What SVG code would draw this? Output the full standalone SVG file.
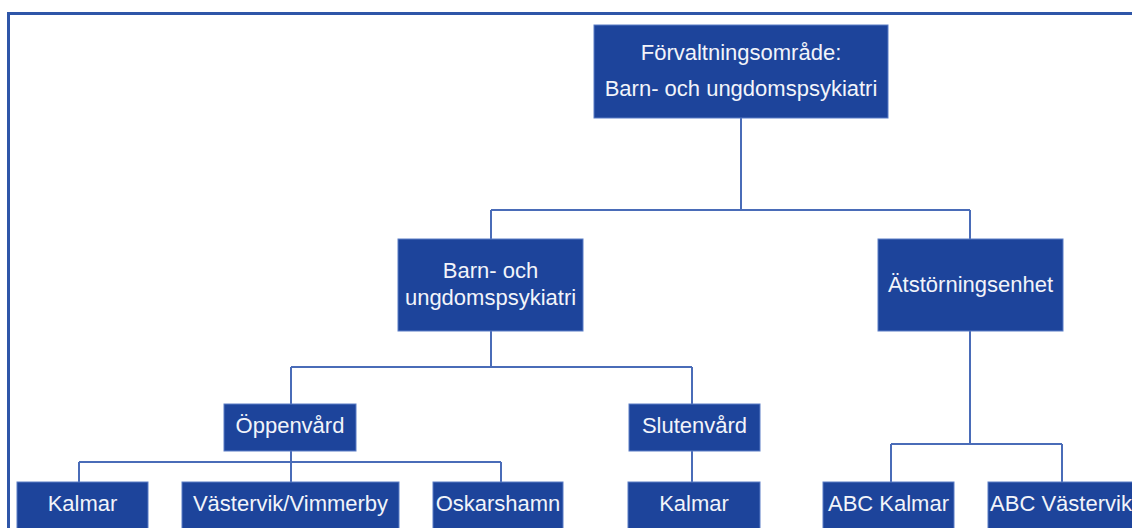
<svg xmlns="http://www.w3.org/2000/svg" width="1132" height="528" viewBox="0 0 1132 528">
<style>
.box{fill:#1d449b;stroke:#5a7cc6;stroke-width:1}
.lbl{font-family:"Liberation Sans",Arial,sans-serif;font-size:22px;fill:#f2f4fa;text-anchor:middle}
.conn{fill:none;stroke:#4a6cb8;stroke-width:2}
</style>
<rect width="1132" height="528" fill="#ffffff"/>
<path d="M8.5 530 V13.5 H1134" fill="none" stroke="#2f56a8" stroke-width="3"/>
<g id="connectors">
<path class="conn" d="M741 118 V210 M491 210 H970 M491 210 V239 M970 210 V239"/>
<path class="conn" d="M491 331 V367 M291 367 H692 M291 367 V404 M692 367 V404"/>
<path class="conn" d="M291 451 V462 M79 462 H501 M79 462 V482 M291 462 V482 M501 462 V482"/>
<path class="conn" d="M692 451 V482"/>
<path class="conn" d="M970 331 V444 M891 444 H1062 M891 444 V482 M1062 444 V482"/>
</g>
<g id="root">
<rect class="box" x="594" y="25" width="294" height="93"/>
<text class="lbl" x="741" y="60">Förvaltningsområde:</text>
<text class="lbl" x="741" y="96">Barn- och ungdomspsykiatri</text>
</g>
<g id="bup">
<rect class="box" x="398" y="239" width="185" height="92"/>
<text class="lbl" x="490.5" y="278">Barn- och</text>
<text class="lbl" x="490.5" y="305">ungdomspsykiatri</text>
</g>
<g id="atstorning">
<rect class="box" x="878" y="239" width="185" height="92"/>
<text class="lbl" x="970.5" y="292">Ätstörningsenhet</text>
</g>
<g id="oppenvard">
<rect class="box" x="224" y="404" width="132" height="47"/>
<text class="lbl" x="290" y="433">Öppenvård</text>
</g>
<g id="slutenvard">
<rect class="box" x="629" y="404" width="131" height="47"/>
<text class="lbl" x="694.5" y="433">Slutenvård</text>
</g>
<g id="kalmar-oppen">
<rect class="box" x="17" y="482" width="131" height="50"/>
<text class="lbl" x="82.5" y="511">Kalmar</text>
</g>
<g id="vastervik-vimmerby">
<rect class="box" x="182" y="482" width="217" height="50"/>
<text class="lbl" x="290.5" y="511">Västervik/Vimmerby</text>
</g>
<g id="oskarshamn">
<rect class="box" x="433" y="482" width="130" height="50"/>
<text class="lbl" x="498" y="511">Oskarshamn</text>
</g>
<g id="kalmar-sluten">
<rect class="box" x="628" y="482" width="132" height="50"/>
<text class="lbl" x="694" y="511">Kalmar</text>
</g>
<g id="abc-kalmar">
<rect class="box" x="823" y="482" width="131" height="50"/>
<text class="lbl" x="888.5" y="511">ABC Kalmar</text>
</g>
<g id="abc-vastervik">
<rect class="box" x="988" y="482" width="150" height="50"/>
<text class="lbl" x="1061" y="511">ABC Västervik</text>
</g>
</svg>
